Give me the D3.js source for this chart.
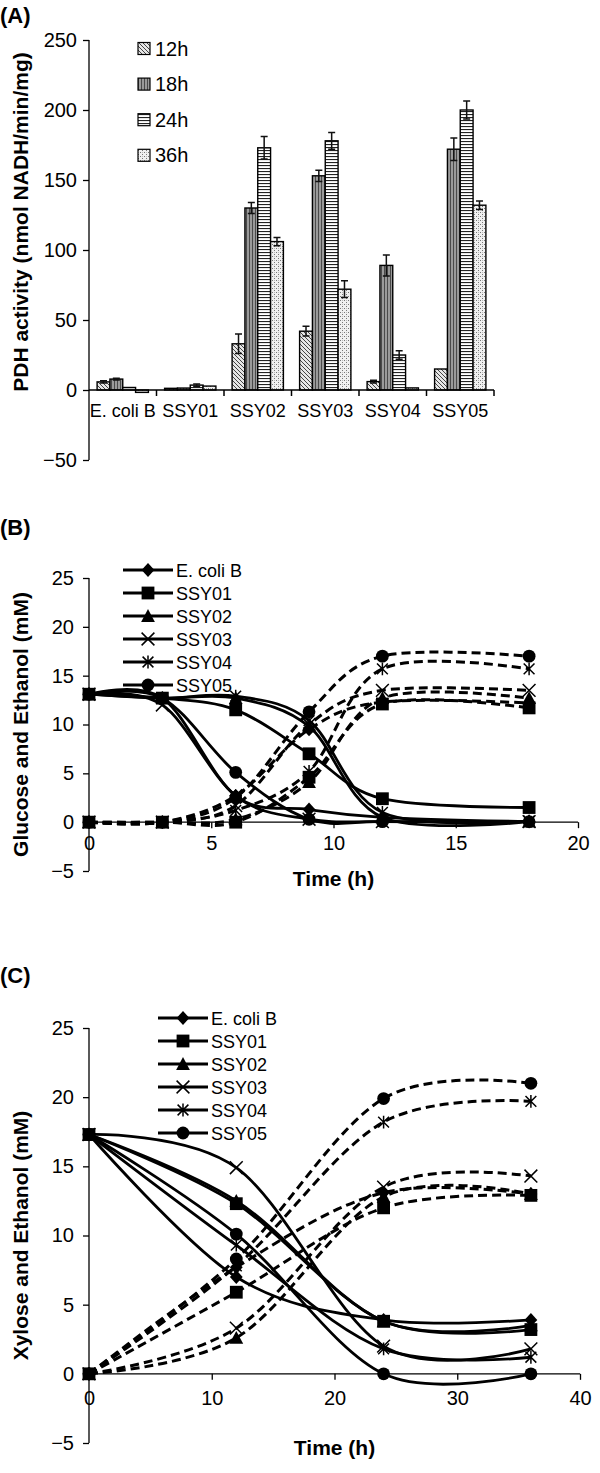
<!DOCTYPE html>
<html><head><meta charset="utf-8">
<script src="https://cdn.jsdelivr.net/npm/d3@7"></script>
<style>
body{margin:0;background:#fff}
svg{display:block}
text{font-family:"Liberation Sans",Arial,sans-serif;fill:#000}
</style>
</head><body>
<svg id="chart" width="600" height="1473"></svg>
<script>
// ---------- Panel A data ----------
const strains = ["E. coli B","SSY01","SSY02","SSY03","SSY04","SSY05"];
const pdhTimes = ["12h","18h","24h","36h"];
const pdh12 = [5.8, 1.2, 33, 42, 6, 15];
const pdh18 = [7.8, 1.4, 130, 153, 89, 172];
const pdh24 = [1.8, 3.5, 173, 178, 25, 200];
const pdh36 = [-1.7, 2.8, 106, 72, 1.5, 132];
const err12 = [0.8, 0.3, 7, 3.5, 1, 0];
const err18 = [0.6, 0.3, 4, 4, 7.5, 8];
const err24 = [0.3, 0.8, 8, 6, 3, 6.5];
const err36 = [0.5, 0.5, 3, 6, 0.3, 3];
const pdhTicks = [250,200,150,100,50,0,-50];

// ---------- Panel B data (glucose solid, ethanol dashed) ----------
const timeB = [0,3,6,9,12,18];
const glcEcoliB = [13.1, 12.7, 2.7, 1.3, 0.5, 0.05];
const glcSSY01  = [13.1, 12.7, 11.5, 7.0, 2.4, 1.5];
const glcSSY02  = [13.1, 12.7, 12.7, 9.8, 0.5, 0.05];
const glcSSY03  = [13.1, 12.0, 2.7, 0.3, 0.05, 0.05];
const glcSSY04  = [13.1, 12.7, 12.9, 10.4, 1.0, 0.1];
const glcSSY05  = [13.1, 12.7, 5.1, 0.3, 0.05, 0.05];
const ethBEcoliB = [0, 0, 2.7, 9.5, 12.3, 12.2];
const ethBSSY01  = [0, 0, 0, 4.6, 12.1, 11.7];
const ethBSSY02  = [0, 0, 0.3, 4.1, 12.7, 12.7];
const ethBSSY03  = [0, 0, 1.7, 10.0, 13.5, 13.5];
const ethBSSY04  = [0, 0, 1.2, 5.2, 15.7, 15.7];
const ethBSSY05  = [0, 0, 2.5, 11.3, 17.0, 17.0];
const ticksBy = [25,20,15,10,5,0,-5];
const ticksBx = [0,5,10,15,20];

// ---------- Panel C data (xylose solid, ethanol dashed) ----------
const timeC = [0,12,24,36];
const xylEcoliB = [17.3, 7.0, 3.9, 3.9];
const xylSSY01  = [17.3, 12.3, 3.8, 3.2];
const xylSSY02  = [17.3, 12.5, 3.8, 3.5];
const xylSSY03  = [17.3, 14.9, 2.0, 1.8];
const xylSSY04  = [17.3, 9.3, 1.8, 1.2];
const xylSSY05  = [17.3, 10.1, 0.0, 0.0];
const ethCEcoliB = [0, 7.7, 13.1, 13.0];
const ethCSSY01  = [0, 5.9, 12.0, 12.9];
const ethCSSY02  = [0, 2.6, 12.8, 13.0];
const ethCSSY03  = [0, 3.3, 13.5, 14.3];
const ethCSSY04  = [0, 7.8, 18.2, 19.7];
const ethCSSY05  = [0, 8.3, 19.9, 21.0];
const ticksCy = [25,20,15,10,5,0,-5];
const ticksCx = [0,10,20,30,40];

const markers = ["diamond","square","triangle","x","asterisk","circle"];

const svg = d3.select("#chart");
const defs = svg.append("defs");

// ---------- patterns ----------
function pat(id, w, h, bg, draw){
  const p = defs.append("pattern").attr("id",id).attr("patternUnits","userSpaceOnUse")
    .attr("width",w).attr("height",h);
  p.append("rect").attr("width",w).attr("height",h).attr("fill",bg);
  draw(p);
}
pat("p12",4,4,"#e6e6e6",p=>{
  p.append("path").attr("d","M-1,-1L5,5M-1,3L1,5M3,-1L5,1").attr("stroke","#444").attr("stroke-width",1);
});
pat("p18",3,3,"#9a9a9a",p=>{
  p.append("rect").attr("x",0).attr("width",1).attr("height",3).attr("fill","#4a4a4a");
});
pat("p24",3,3,"#ffffff",p=>{
  p.append("rect").attr("y",0).attr("width",3).attr("height",1.1).attr("fill","#222");
});
pat("p36",4,4,"#f0f0f0",p=>{
  p.append("rect").attr("x",0).attr("y",0).attr("width",1).attr("height",1).attr("fill","#777");
  p.append("rect").attr("x",2).attr("y",2).attr("width",1).attr("height",1).attr("fill","#777");
  p.append("rect").attr("x",2).attr("y",0).attr("width",1).attr("height",1).attr("fill","#bbb");
});
const patIds = ["p12","p18","p24","p36"];

function panelLabel(txt, y){
  svg.append("text").attr("x",0).attr("y",y).attr("font-size",22).attr("font-weight","bold").text(txt);
}
function yTitle(txt, cy){
  svg.append("text").attr("transform",`translate(20,${cy}) rotate(-90)`)
    .attr("text-anchor","middle").attr("dominant-baseline","central")
    .attr("font-size",21).attr("font-weight","bold").text(txt);
}

// ================= Panel A =================
(function(){
  const y = d3.scaleLinear().domain([-50,250]).range([460,40]);
  const x0 = d3.scaleBand().domain(strains).range([89,494]).paddingInner(0.24).paddingOuter(0.12);
  const x1 = d3.scaleBand().domain(pdhTimes).range([0,x0.bandwidth()]);
  const vals = [pdh12,pdh18,pdh24,pdh36];
  const errs = [err12,err18,err24,err36];
  panelLabel("(A)",23);
  yTitle("PDH activity (nmol NADH/min/mg)",222);

  const g = svg.append("g");
  const ya = g.append("g").attr("transform","translate(89,0)")
    .call(d3.axisLeft(y).tickValues(pdhTicks).tickSize(6).tickPadding(6).tickFormat(d3.format("d")));
  ya.select(".domain").attr("d",`M0,${y(250)}V${y(-50)}`).attr("stroke","#000").attr("stroke-width",1.3);
  ya.selectAll(".tick line").attr("stroke","#000").attr("stroke-width",1.3);
  ya.selectAll(".tick text").attr("font-size",20).attr("font-family","Liberation Sans, Arial, sans-serif").attr("fill","#000");

  strains.forEach((s,i)=>{
    pdhTimes.forEach((t,j)=>{
      const v = vals[j][i];
      const bx = x0(s)+x1(t);
      g.append("rect").attr("x",bx).attr("width",x1.bandwidth())
        .attr("y",Math.min(y(v),y(0))).attr("height",Math.abs(y(v)-y(0)))
        .attr("fill",`url(#${patIds[j]})`).attr("stroke","#000").attr("stroke-width",1.4);
      const e = errs[j][i];
      if(e>0.5){
        const cx = bx + x1.bandwidth()/2;
        g.append("path").attr("d",`M${cx},${y(v+e)}V${y(v-e)}M${cx-3.5},${y(v+e)}H${cx+3.5}M${cx-3.5},${y(v-e)}H${cx+3.5}`)
          .attr("stroke","#111").attr("stroke-width",1.5).attr("fill","none");
      }
    });
  });
  const step = x0.step();
  g.append("line").attr("x1",89).attr("x2",x0.range()[1]).attr("y1",y(0)).attr("y2",y(0))
    .attr("stroke","#000").attr("stroke-width",1.5);
  for(let i=1;i<=strains.length;i++){
    const bx = x0.range()[0] + i*step;
    g.append("line").attr("x1",bx).attr("x2",bx).attr("y1",y(0)).attr("y2",y(0)+6).attr("stroke","#000").attr("stroke-width",1.5);
  }
  strains.forEach(s=>{
    g.append("text").attr("x",x0(s)+x0.bandwidth()/2).attr("y",y(0)+27)
      .attr("text-anchor","middle").attr("font-size",18).text(s);
  });
  pdhTimes.forEach((t,j)=>{
    const cy = 48.5 + j*35.6;
    g.append("rect").attr("x",138).attr("y",cy-6).attr("width",12).attr("height",12)
      .attr("fill",`url(#${patIds[j]})`).attr("stroke","#000").attr("stroke-width",1.2);
    g.append("text").attr("x",155).attr("y",cy+7).attr("font-size",20).text(t);
  });
})();

// ================= Line panels =================
function marker(g, type, x, y){
  const s = 6.4;
  if(type==="diamond"){
    g.append("path").attr("d",`M${x},${y-s-0.5}L${x+s},${y}L${x},${y+s+0.5}L${x-s},${y}Z`).attr("fill","#000");
  } else if(type==="square"){
    g.append("rect").attr("x",x-s).attr("y",y-s).attr("width",2*s).attr("height",2*s).attr("fill","#000");
  } else if(type==="triangle"){
    g.append("path").attr("d",`M${x},${y-s-0.5}L${x+s+0.5},${y+s-0.5}L${x-s-0.5},${y+s-0.5}Z`).attr("fill","#000");
  } else if(type==="x"){
    g.append("path").attr("d",`M${x-s},${y-s}L${x+s},${y+s}M${x-s},${y+s}L${x+s},${y-s}`).attr("stroke","#000").attr("stroke-width",1.5);
  } else if(type==="asterisk"){
    g.append("path").attr("d",`M${x-s+1},${y-s+1}L${x+s-1},${y+s-1}M${x-s+1},${y+s-1}L${x+s-1},${y-s+1}M${x},${y-s}V${y+s}`).attr("stroke","#000").attr("stroke-width",1.5);
  } else if(type==="circle"){
    g.append("circle").attr("cx",x).attr("cy",y).attr("r",s).attr("fill","#000");
  }
}

function linePanel(cfg){
  const x = d3.scaleLinear().domain([cfg.xTicks[0], cfg.xTicks[cfg.xTicks.length-1]]).range([89, cfg.xEnd]);
  const y = d3.scaleLinear().domain([-5,25]).range([cfg.yBottom, cfg.yTop]);
  panelLabel(cfg.label, cfg.labelY);
  yTitle(cfg.yTitle, (cfg.yTop+cfg.yBottom)/2);
  const g = svg.append("g");
  const ya = g.append("g").attr("transform","translate(89,0)")
    .call(d3.axisLeft(y).tickValues(cfg.yTicks).tickSize(6).tickPadding(9).tickFormat(d3.format("d")));
  ya.select(".domain").attr("d",`M0,${y(25)}V${y(-5)}`).attr("stroke","#000").attr("stroke-width",1.3);
  ya.selectAll(".tick line").attr("stroke","#000").attr("stroke-width",1.3);
  ya.selectAll(".tick text").attr("font-size",20).attr("font-family","Liberation Sans, Arial, sans-serif").attr("fill","#000");
  const xa = g.append("g").attr("transform",`translate(0,${y(0)})`)
    .call(d3.axisBottom(x).tickValues(cfg.xTicks).tickSize(6).tickFormat(d3.format("d")));
  xa.select(".domain").attr("d",`M89,0H${cfg.xEnd}`).attr("stroke","#000").attr("stroke-width",1.3);
  xa.selectAll(".tick line").attr("stroke","#000").attr("stroke-width",1.3);
  xa.selectAll(".tick text").attr("font-size",20).attr("font-family","Liberation Sans, Arial, sans-serif").attr("fill","#000")
    .attr("y",cfg.xLabOff).attr("dy","0.71em");
  g.append("text").attr("x",(89+cfg.xEnd)/2).attr("y",cfg.timeY).attr("text-anchor","middle")
    .attr("font-size",21).attr("font-weight","bold").text("Time (h)");

  const line = d3.line().x((d,i)=>x(cfg.time[i])).y(d=>y(d)).curve(d3.curveCardinal.tension(0));
  cfg.eth.forEach(ser=>{
    g.append("path").attr("d",line(ser)).attr("fill","none").attr("stroke","#000")
      .attr("stroke-width",3).attr("stroke-dasharray","9,5");
  });
  cfg.sub.forEach(ser=>{
    g.append("path").attr("d",line(ser)).attr("fill","none").attr("stroke","#000").attr("stroke-width",2.8);
  });
  cfg.eth.forEach((ser,k)=>ser.forEach((v,i)=>marker(g,markers[k],x(cfg.time[i]),y(v))));
  cfg.sub.forEach((ser,k)=>ser.forEach((v,i)=>marker(g,markers[k],x(cfg.time[i]),y(v))));
  strains.forEach((s,k)=>{
    const cy = cfg.legY + k*cfg.legDy;
    g.append("line").attr("x1",cfg.legX).attr("x2",cfg.legX+50).attr("y1",cy).attr("y2",cy)
      .attr("stroke","#000").attr("stroke-width",3);
    marker(g, markers[k], cfg.legX+25, cy);
    g.append("text").attr("x",cfg.legX+53).attr("y",cy+6.5).attr("font-size",18).text(s);
  });
}

linePanel({
  label:"(B)", labelY:535, yTitle:"Glucose and Ethanol (mM)",
  yTop:578, yBottom:871, xEnd:578, time:timeB, xTicks:ticksBx, yTicks:ticksBy,
  xLabOff:14, timeY:886,
  sub:[glcEcoliB,glcSSY01,glcSSY02,glcSSY03,glcSSY04,glcSSY05],
  eth:[ethBEcoliB,ethBSSY01,ethBSSY02,ethBSSY03,ethBSSY04,ethBSSY05],
  legX:123, legY:570, legDy:23
});
linePanel({
  label:"(C)", labelY:983, yTitle:"Xylose and Ethanol (mM)",
  yTop:1028, yBottom:1443, xEnd:580, time:timeC, xTicks:ticksCx, yTicks:ticksCy,
  xLabOff:17, timeY:1455,
  sub:[xylEcoliB,xylSSY01,xylSSY02,xylSSY03,xylSSY04,xylSSY05],
  eth:[ethCEcoliB,ethCSSY01,ethCSSY02,ethCSSY03,ethCSSY04,ethCSSY05],
  legX:158, legY:1018, legDy:23
});
</script>
</body></html>
